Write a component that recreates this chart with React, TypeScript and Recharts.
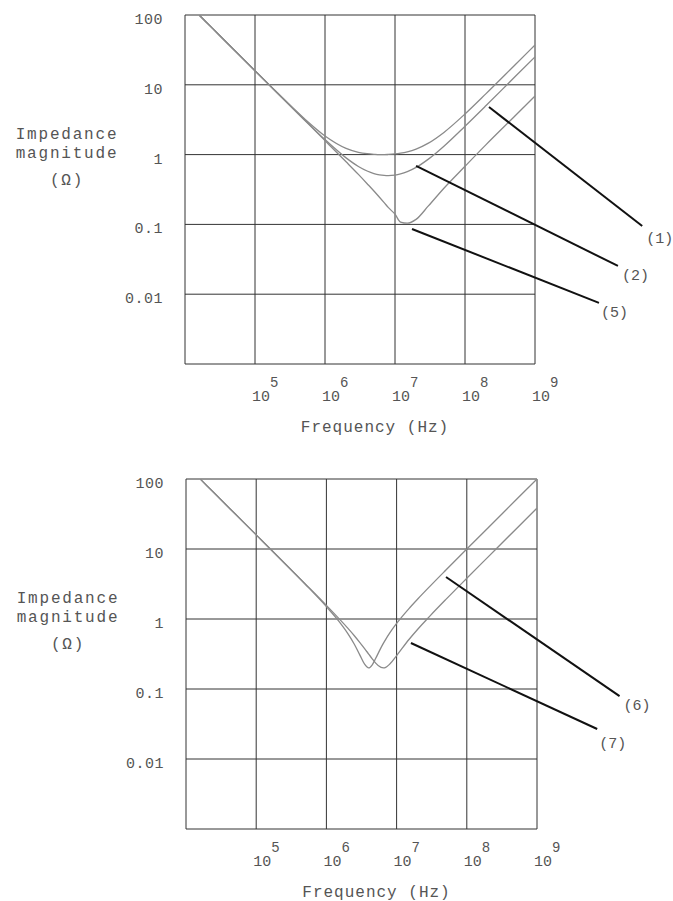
import {
  LineChart,
  Line,
  XAxis,
  YAxis,
  CartesianGrid,
  ReferenceLine,
  ReferenceDot,
} from "recharts";

// frequency (Hz) and impedance magnitude (ohm)
const topFreq = [
  1.6e4, 2e4, 3e4, 5e4, 1e5, 2e5, 5e5, 1e6, 2e6, 3e6, 4e6, 5e6, 6e6, 7e6, 8e6,
  1e7, 1.2e7, 1.5e7, 2e7, 3e7, 5e7, 1e8, 2e8, 5e8, 1e9,
];
const curve1 = [
  99.5, 79.6, 53.0, 31.8, 15.9, 8.0, 3.32, 1.85, 1.23, 1.08, 1.03, 1.01, 1.0,
  1.0, 1.005, 1.022, 1.048, 1.097, 1.2, 1.46, 2.08, 3.82, 7.47, 18.6, 37.1,
];
const curve2 = [
  99.5, 79.6, 53.0, 31.8, 15.9, 7.97, 3.21, 1.64, 0.898, 0.676, 0.582, 0.536,
  0.513, 0.503, 0.5, 0.508, 0.528, 0.569, 0.655, 0.861, 1.32, 2.55, 5.04, 12.6,
  25.1,
];
const curve3 = [
  99.5, 79.6, 53.0, 31.8, 15.9, 7.96, 3.18, 1.586, 0.788, 0.52, 0.383, 0.301,
  0.245, 0.205, 0.175, 0.14, 0.108, 0.104, 0.118, 0.184, 0.33, 0.68, 1.39, 3.46,
  6.91,
];

const bottomFreq = [
  1.6e4, 2e4, 3e4, 5e4, 1e5, 2e5, 5e5, 1e6, 1.5e6, 2e6, 2.5e6, 3e6, 3.5e6, 4e6,
  4.5e6, 5e6, 6e6, 6.5e6, 7e6, 8e6, 1e7, 1.5e7, 2e7, 3e7, 5e7, 1e8, 2e8, 5e8,
  1e9,
];
const curve6 = [
  99.5, 79.6, 53.0, 31.8, 15.9, 7.94, 3.14, 1.5, 0.933, 0.629, 0.436, 0.305,
  0.226, 0.2, 0.222, 0.27, 0.39, 0.452, 0.513, 0.633, 0.864, 1.41, 1.93, 2.95,
  4.97, 10.0, 20.0, 50.0, 100,
];
const curve7 = [
  99.5, 79.6, 53.0, 31.8, 15.9, 7.95, 3.17, 1.566, 1.02, 0.746, 0.577, 0.461,
  0.378, 0.316, 0.27, 0.236, 0.203, 0.2, 0.204, 0.227, 0.3, 0.51, 0.715, 1.11,
  1.89, 3.82, 7.66, 19.2, 38.3,
];

const xTicks = [1e4, 1e5, 1e6, 1e7, 1e8, 1e9];
const xTickExp = ["", "5", "6", "7", "8", "9"];
const yTicks = [0.001, 0.01, 0.1, 1, 10, 100];
const yTickLabels = ["", "0.01", "0.1", "1", "10", "100"];

// leader lines: [label, startFreq, startZ, endFreq, endZ, label dx, label dy]
const topLeaders: [string, number, number, number, number, number, number][] = [
  ["(1)", 2.2e8, 4.8, 3.4e10, 0.095, 4, 17],
  ["(2)", 2.0e7, 0.69, 1.53e10, 0.0254, 4, 14],
  ["(5)", 1.75e7, 0.086, 8.2e9, 0.0075, 2, 14],
];
const bottomLeaders: [string, number, number, number, number, number, number][] = [
  ["(6)", 5.06e7, 3.98, 1.5e10, 0.079, 4, 14],
  ["(7)", 1.6e7, 0.454, 7.2e9, 0.0268, 2, 19],
];

const topData = topFreq.map((f, i) => ({
  f,
  c1: curve1[i],
  c2: curve2[i],
  c3: curve3[i],
}));
const bottomData = bottomFreq.map((f, i) => ({ f, c6: curve6[i], c7: curve7[i] }));

const FONT = "'Liberation Mono', 'DejaVu Sans Mono', monospace";
const TEXT = "#555";

function XTick(props: any) {
  const { x, y, index } = props;
  const exp = xTickExp[index];
  if (!exp) return null;
  return (
    <text x={x - 3} y={y + 37} fill={TEXT} fontSize={15} fontFamily={FONT}>
      <tspan>10</tspan>
      <tspan dy={-14} fontSize={14}>
        {exp}
      </tspan>
    </text>
  );
}

function YTick(props: any) {
  const { x, y, index } = props;
  const label = yTickLabels[index];
  if (!label) return null;
  return (
    <text
      x={x - 22}
      y={y + 9}
      textAnchor="end"
      fill={TEXT}
      fontSize={15}
      letterSpacing={0.5}
      fontFamily={FONT}
    >
      {label}
    </text>
  );
}

function YTitle(props: any) {
  const { x, y, width } = props.viewBox;
  const cx = x + width - 118;
  const common = {
    x: cx,
    textAnchor: "middle" as const,
    fill: TEXT,
    fontSize: 16,
    letterSpacing: 1.8,
    fontFamily: FONT,
  };
  return (
    <g>
      <text {...common} y={y + 124}>
        Impedance
      </text>
      <text {...common} y={y + 143}>
        magnitude
      </text>
      <text {...common} y={y + 170}>
        (Ω)
      </text>
    </g>
  );
}

function XTitle(props: any) {
  const { x, y, width } = props.viewBox;
  return (
    <text
      x={x + width / 2 + 15}
      y={y + 68}
      textAnchor="middle"
      fill={TEXT}
      fontSize={16}
      letterSpacing={1}
      fontFamily={FONT}
    >
      Frequency (Hz)
    </text>
  );
}

function ImpedancePlot({
  data,
  keys,
  leaders,
  height,
  margin,
}: {
  data: any[];
  keys: string[];
  leaders: [string, number, number, number, number, number, number][];
  height: number;
  margin: { top: number; right: number; bottom: number; left: number };
}) {
  return (
    <LineChart width={673} height={height} data={data} margin={margin}>
      <CartesianGrid stroke="#333" strokeWidth={1} />
      <XAxis
        dataKey="f"
        type="number"
        scale="log"
        domain={[1e4, 1e9]}
        ticks={xTicks}
        interval={0}
        allowDataOverflow
        axisLine={false}
        tickLine={false}
        tickSize={0}
        tickMargin={0}
        height={40}
        tick={<XTick />}
        label={{ content: (p: any) => <XTitle {...p} /> }}
      />
      <YAxis
        type="number"
        scale="log"
        domain={[0.001, 100]}
        ticks={yTicks}
        interval={0}
        allowDataOverflow
        axisLine={false}
        tickLine={false}
        tickSize={0}
        tickMargin={0}
        width={60}
        tick={<YTick />}
        label={{ content: (p: any) => <YTitle {...p} /> }}
      />
      {keys.map((k) => (
        <Line
          key={k}
          dataKey={k}
          type="monotoneX"
          stroke="#8a8a8a"
          strokeWidth={1.3}
          dot={false}
          activeDot={false}
          isAnimationActive={false}
        />
      ))}
      {leaders.map(([name, f1, z1, f2, z2]) => (
        <ReferenceLine
          key={name}
          segment={[
            { x: f1, y: z1 },
            { x: f2, y: z2 },
          ]}
          stroke="#111"
          strokeWidth={2}
          ifOverflow="visible"
        />
      ))}
      {leaders.map(([name, , , f2, z2, dx, dy]) => (
        <ReferenceDot
          key={name + "-label"}
          x={f2}
          y={z2}
          r={0}
          stroke="none"
          fill="none"
          ifOverflow="visible"
          label={{
            content: (p: any) => (
              <text
                x={p.viewBox.x + dx}
                y={p.viewBox.y + dy}
                fill={TEXT}
                fontSize={15}
                fontFamily={FONT}
              >
                {name}
              </text>
            ),
          }}
        />
      ))}
    </LineChart>
  );
}

export default function App() {
  return (
    <div
      style={{
        position: "absolute",
        left: 0,
        top: 0,
        width: 673,
        height: 901,
        background: "#fff",
      }}
    >
      <div style={{ position: "absolute", left: 0, top: 0 }}>
        <ImpedancePlot
          data={topData}
          keys={["c1", "c2", "c3"]}
          leaders={topLeaders}
          height={450}
          margin={{ top: 15, right: 138, bottom: 46, left: 125 }}
        />
      </div>
      <div style={{ position: "absolute", left: 0, top: 450 }}>
        <ImpedancePlot
          data={bottomData}
          keys={["c6", "c7"]}
          leaders={bottomLeaders}
          height={451}
          margin={{ top: 29, right: 136, bottom: 32, left: 126 }}
        />
      </div>
    </div>
  );
}
